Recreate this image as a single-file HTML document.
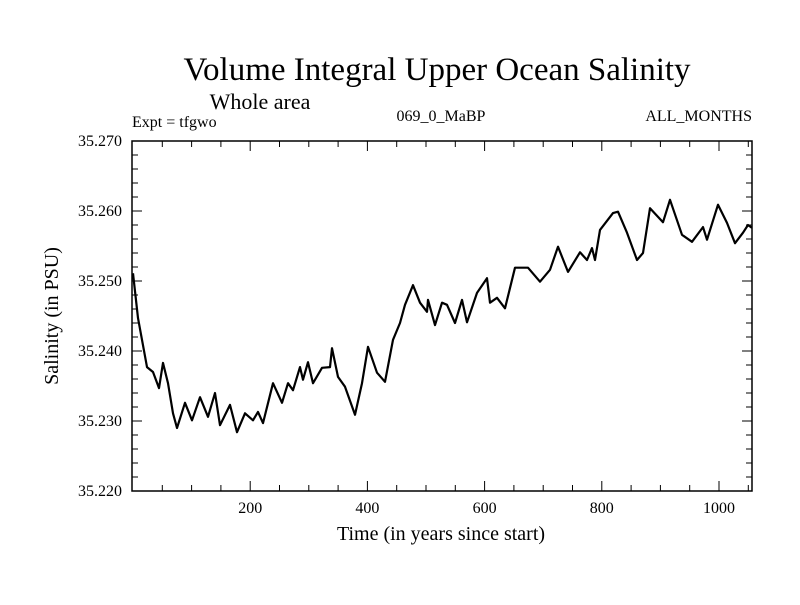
<!DOCTYPE html>
<html><head><meta charset="utf-8"><style>
body{margin:0;background:#fff;}
svg text{font-family:"Liberation Serif",serif;fill:#000;}
</style></head><body>
<svg id="chart" width="800" height="600" xmlns="http://www.w3.org/2000/svg">
<rect width="800" height="600" fill="#fff"/>
<text x="437" y="80" font-size="33" text-anchor="middle">Volume Integral Upper Ocean Salinity</text>
<text x="260" y="109" font-size="22" text-anchor="middle">Whole area</text>
<text x="132" y="127" font-size="16">Expt = tfgwo</text>
<text x="441" y="121" font-size="16" text-anchor="middle">069_0_MaBP</text>
<text x="752" y="121" font-size="16" text-anchor="end">ALL_MONTHS</text>
<text x="441" y="540" font-size="20" text-anchor="middle">Time (in years since start)</text>
<text transform="translate(58,316) rotate(-90)" font-size="20" text-anchor="middle">Salinity (in PSU)</text>
<g id="axes"></g>
<g id="plot"></g>
</svg>
<script>
const years=[0,8.5,23.9,34.1,44.4,51.2,59.7,68.3,75.1,88.7,100.7,114.3,128,139.9,148.5,165.5,177.5,191.1,204.8,213.3,221.8,238.9,254.3,264.5,273,285,290.1,298.6,307.2,322.5,336.2,339.6,349.8,361.8,378.8,390.8,401,416.4,430,443.7,455.6,464.2,477.8,489.8,501.7,503.4,515.4,527.3,535.8,549.5,561.4,570,587,604.1,609.2,621.2,634.8,651.9,674.1,694.5,711.6,725.3,742.3,762.8,774.8,783.3,788.4,796.9,819.1,827.7,843,860.1,870.3,882.3,904.4,916.4,936.9,953.9,972.7,979.5,998.3,1013.7,1027.3,1041,1049.5,1056];
const salinity=[35.2511,35.2447,35.2377,35.2370,35.2347,35.2383,35.2354,35.2311,35.2290,35.2326,35.2301,35.2334,35.2306,35.2340,35.2294,35.2323,35.2284,35.2311,35.2301,35.2313,35.2297,35.2354,35.2326,35.2354,35.2344,35.2377,35.2359,35.2384,35.2354,35.2376,35.2377,35.2404,35.2363,35.2349,35.2309,35.2354,35.2406,35.2369,35.2356,35.2416,35.2440,35.2466,35.2494,35.2469,35.2456,35.2473,35.2437,35.2469,35.2466,35.2440,35.2473,35.2441,35.2483,35.2504,35.2469,35.2476,35.2461,35.2519,35.2519,35.2499,35.2516,35.2549,35.2513,35.2541,35.2530,35.2547,35.2530,35.2573,35.2597,35.2599,35.2569,35.2530,35.2540,35.2604,35.2584,35.2616,35.2566,35.2556,35.2577,35.2559,35.2609,35.2583,35.2554,35.2569,35.2580,35.2576];
const xTickLabels=[200,400,600,800,1000];
const yTickLabels=["35.220","35.230","35.240","35.250","35.260","35.270"];
const X0=133,PXPY=0.586,L=132,R=752,T=141,B=491,YMIN=35.22,YMAX=35.27;
const xs=v=>X0+v*PXPY;
const ys=v=>B-(v-YMIN)/(YMAX-YMIN)*(B-T);
const NS="http://www.w3.org/2000/svg";
const axes=document.getElementById('axes'),plot=document.getElementById('plot');
function mk(tag,attrs,parent){const e=document.createElementNS(NS,tag);for(const k in attrs)e.setAttribute(k,attrs[k]);parent.appendChild(e);return e;}
const frame=mk('rect',{x:L,y:T,width:R-L,height:B-T,fill:'none',stroke:'#000','stroke-width':1.5},axes);


for(let yr=50;yr<=1050;yr+=50){const x=xs(yr);if(x>R)break;const major=yr%200===0;const len=major?10:6;
 mk('line',{x1:x,y1:B,x2:x,y2:B-len,stroke:'#000','stroke-width':1},axes);
 mk('line',{x1:x,y1:T,x2:x,y2:T+len,stroke:'#000','stroke-width':1},axes);}
for(let i=0;i<=25;i++){const v=YMIN+i*0.002;const y=ys(v);const major=i%5===0;const len=major?10:6;
 mk('line',{x1:L,y1:y,x2:L+len,y2:y,stroke:'#000','stroke-width':1},axes);
 mk('line',{x1:R,y1:y,x2:R-len,y2:y,stroke:'#000','stroke-width':1},axes);}
xTickLabels.forEach(t=>{const e=mk('text',{x:xs(t),y:B+22,'font-size':16,'text-anchor':'middle'},axes);e.textContent=t;
 
 });
yTickLabels.forEach(t=>{const e=mk('text',{x:L-10,y:ys(parseFloat(t))+5,'font-size':16,'text-anchor':'end'},axes);e.textContent=t;
 
 });
const d=years.map((yr,i)=>(i?'L':'M')+xs(yr).toFixed(1)+' '+ys(salinity[i]).toFixed(1)).join(' ');
const line=mk('path',{d:d,fill:'none',stroke:'#000','stroke-width':2.2,'stroke-linejoin':'round'},plot);


</script>
</body></html>
